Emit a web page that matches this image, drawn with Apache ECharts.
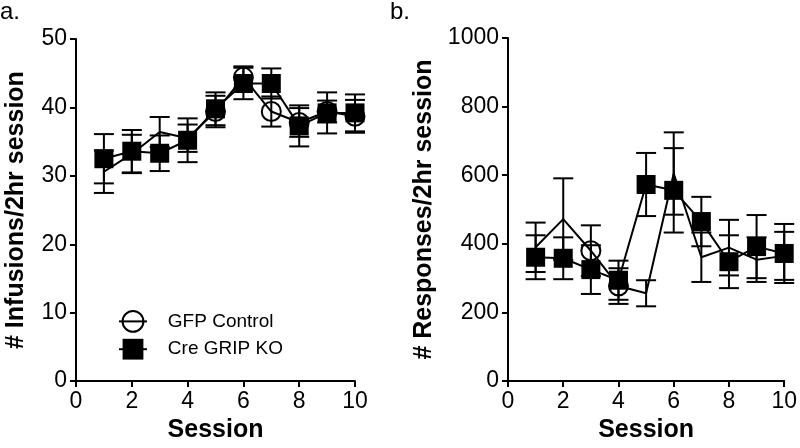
<!DOCTYPE html>
<html>
<head>
<meta charset="utf-8">
<script src="https://cdn.jsdelivr.net/npm/echarts@6/dist/echarts.min.js"></script>
<style>
  html, body { margin: 0; padding: 0; background: #fff; }
  #chart { width: 800px; height: 448px; }
</style>
</head>
<body>
<div id="chart"></div>
<script>
var sessions = [1, 2, 3, 4, 5, 6, 7, 8, 9, 10]

// a. infusions per 2hr session (mean, SEM)
var gfpInf = [30.6, 33.2, 36.4, 35.5, 39.4, 44.4, 39.4, 37.8, 39.4, 38.7]
var gfpInfSem = [3.1, 2.8, 2.2, 2.0, 2.3, 1.6, 2.2, 2.1, 1.6, 2.4]
var creInf = [32.5, 33.6, 33.3, 35.2, 39.8, 43.5, 43.5, 37.3, 39.2, 39.2]
var creInfSem = [3.6, 3.1, 2.6, 3.2, 2.4, 2.3, 2.2, 3.0, 3.0, 2.7]

// b. responses per 2hr session (mean, SEM)
var gfpResp = [390, 472, 380, 277, 256, 605, 361, 389, 354, 365]
var gfpRespSem = [72, 119, 74, 52, 38, 120, 72, 81, 65, 70]
var creResp = [361, 358, 325, 294, 573, 556, 465, 348, 392, 372]
var creRespSem = [64, 61, 71, 57, 92, 123, 72, 77, 92, 86]

var font = 'Liberation Sans'
var chart = echarts.init(document.getElementById('chart'))

// sessions where the open circle is actually drawn in the figure
var circlesShownA = [5, 6, 7, 8, 9, 10]
var circlesShownB = [3, 4]

function linePoints(values, shown) {
  return sessions.map(function (s, i) {
    var item = { value: [s, values[i]] }
    if (shown && shown.indexOf(s) < 0) item.symbol = 'none'
    return item
  })
}

function errData(values, sem) {
  return sessions.map(function (s, i) {
    return [s, values[i], sem[i]]
  })
}

function renderErr(params, api) {
  var x = api.value(0)
  var m = api.value(1)
  var e = api.value(2)
  var top = api.coord([x, m + e])
  var bot = api.coord([x, m - e])
  var half = 10
  var style = { stroke: '#000', lineWidth: 2 }
  return {
    type: 'group',
    children: [
      { type: 'line', shape: { x1: top[0], y1: top[1], x2: bot[0], y2: bot[1] }, style: style },
      { type: 'line', shape: { x1: top[0] - half, y1: top[1], x2: top[0] + half, y2: top[1] }, style: style },
      { type: 'line', shape: { x1: bot[0] - half, y1: bot[1], x2: bot[0] + half, y2: bot[1] }, style: style }
    ]
  }
}

function xAxisFor(idx) {
  return {
    type: 'value',
    gridIndex: idx,
    min: 0,
    max: 10,
    interval: 2,
    name: 'Session',
    nameLocation: 'middle',
    nameGap: 36,
    nameTextStyle: { fontFamily: font, fontSize: 25, fontWeight: 'bold', color: '#000' },
    axisLine: { lineStyle: { color: '#000', width: 2 } },
    axisTick: { length: 6, lineStyle: { color: '#000', width: 2 } },
    axisLabel: { fontFamily: font, fontSize: 23, color: '#000', margin: 9 },
    splitLine: { show: false }
  }
}

function yAxisFor(idx, max, interval, name, gap) {
  return {
    type: 'value',
    gridIndex: idx,
    min: 0,
    max: max,
    interval: interval,
    name: name,
    nameLocation: 'middle',
    nameGap: gap,
    nameTextStyle: { fontFamily: font, fontSize: 25, fontWeight: 'bold', color: '#000' },
    axisLine: { show: true, lineStyle: { color: '#000', width: 2 } },
    axisTick: { show: true, length: 6, lineStyle: { color: '#000', width: 2 } },
    axisLabel: {
      fontFamily: font, fontSize: 23, color: '#000', margin: 9,
      formatter: function (v) { return String(v) }
    },
    splitLine: { show: false }
  }
}

function gfpLine(idx, values, shown) {
  return {
    name: 'GFP Control',
    type: 'line',
    xAxisIndex: idx,
    yAxisIndex: idx,
    data: linePoints(values, shown),
    symbol: 'circle',
    symbolSize: 19,
    itemStyle: { color: 'rgba(255,255,255,0)', borderColor: '#000', borderWidth: 2 },
    lineStyle: { color: '#000', width: 2 },
    z: 4
  }
}

function creLine(idx, values) {
  return {
    name: 'Cre GRIP KO',
    type: 'line',
    xAxisIndex: idx,
    yAxisIndex: idx,
    data: linePoints(values),
    symbol: 'rect',
    symbolSize: 19,
    itemStyle: { color: '#000' },
    lineStyle: { color: '#000', width: 2 },
    z: 6
  }
}

function errSeries(idx, name, values, sem, z) {
  return {
    name: name,
    type: 'custom',
    xAxisIndex: idx,
    yAxisIndex: idx,
    data: errData(values, sem),
    encode: { x: 0, y: 1 },
    renderItem: renderErr,
    z: z
  }
}

var option = {
  animation: false,
  backgroundColor: '#fff',
  graphic: [
    { type: 'text', left: 0, top: 0, style: { text: 'a.', font: '24px ' + font, fill: '#000' } },
    { type: 'text', left: 390, top: 0, style: { text: 'b.', font: '24px ' + font, fill: '#000' } }
  ],
  grid: [
    { left: 76, right: 445, top: 39, bottom: 60 },
    { left: 508, right: 12, top: 38, bottom: 60 }
  ],
  legend: {
    data: ['GFP Control', 'Cre GRIP KO'],
    orient: 'vertical',
    left: 113,
    top: 305,
    itemWidth: 28,
    itemHeight: 26,
    itemGap: 6,
    formatter: function (name) { return '   ' + name },
    textStyle: { fontFamily: font, fontSize: 19, color: '#000' }
  },
  xAxis: [xAxisFor(0), xAxisFor(1)],
  yAxis: [
    yAxisFor(0, 50, 10, '# Infusions/2hr session', 47),
    yAxisFor(1, 1000, 200, '# Responses/2hr session', 71)
  ],
  series: [
    errSeries(0, 'GFP SEM a', gfpInf, gfpInfSem, 3),
    gfpLine(0, gfpInf, circlesShownA),
    errSeries(0, 'Cre SEM a', creInf, creInfSem, 5),
    creLine(0, creInf),
    errSeries(1, 'GFP SEM b', gfpResp, gfpRespSem, 3),
    gfpLine(1, gfpResp, circlesShownB),
    errSeries(1, 'Cre SEM b', creResp, creRespSem, 5),
    creLine(1, creResp)
  ]
}

chart.setOption(option)
</script>
</body>
</html>
